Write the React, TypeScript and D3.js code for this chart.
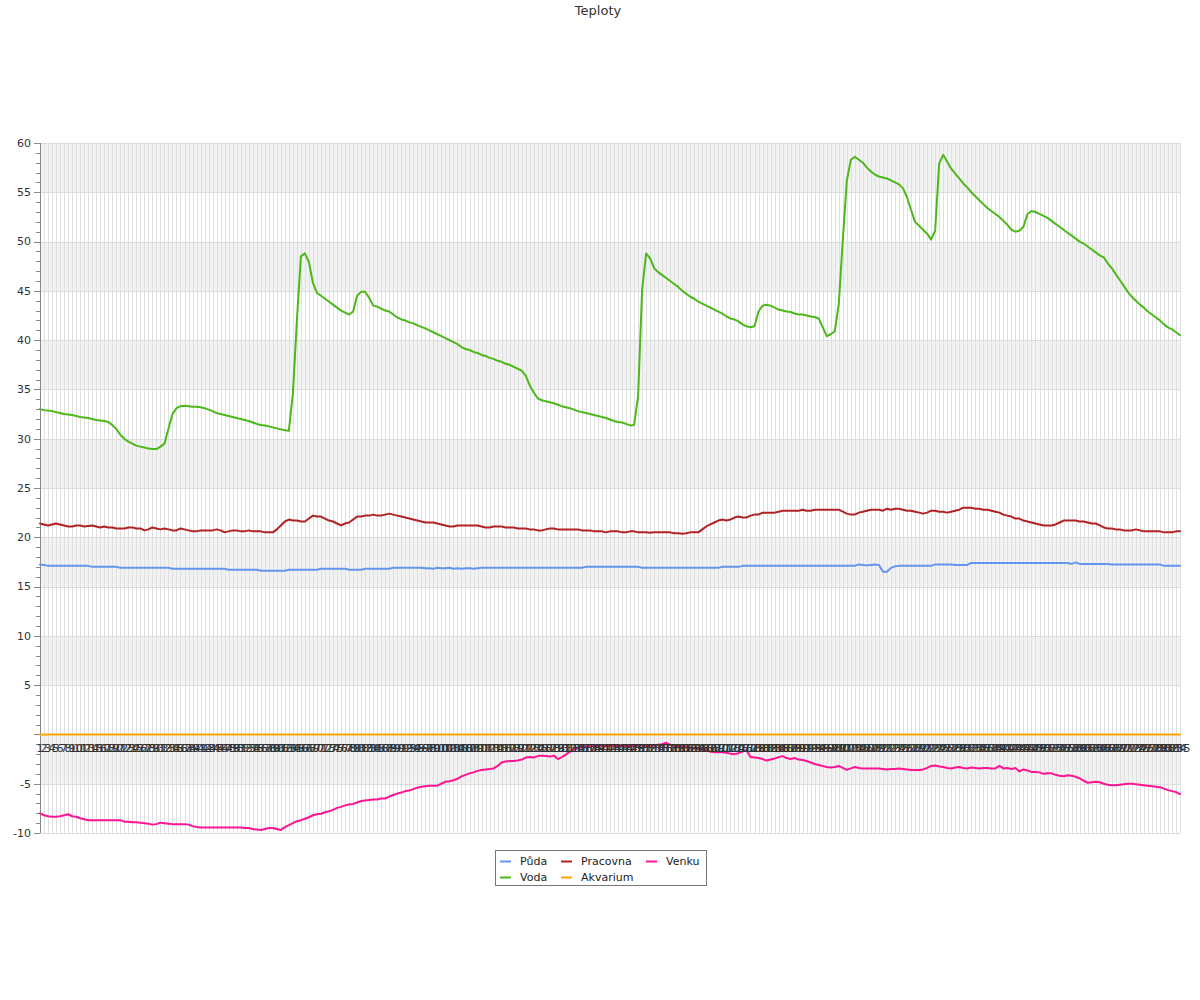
import React from 'react';
import * as d3 from 'd3';

const categories: string[] = d3.range(1, 286).map((d) => String(d));

const puda = [
  17.25, 17.2, 17.1, 17.1, 17.1, 17.1, 17.1, 17.1, 17.1, 17.1,
  17.1, 17.1, 17.1, 17.0, 17.0, 17.0, 17.0, 17.0, 17.0, 17.0,
  16.9, 16.9, 16.9, 16.9, 16.9, 16.9, 16.9, 16.9, 16.9, 16.9,
  16.9, 16.9, 16.9, 16.8, 16.8, 16.8, 16.8, 16.8, 16.8, 16.8,
  16.8, 16.8, 16.8, 16.8, 16.8, 16.8, 16.8, 16.7, 16.7, 16.7,
  16.7, 16.7, 16.7, 16.7, 16.7, 16.6, 16.6, 16.6, 16.6, 16.6,
  16.6, 16.6, 16.7, 16.7, 16.7, 16.7, 16.7, 16.7, 16.7, 16.7,
  16.8, 16.8, 16.8, 16.8, 16.8, 16.8, 16.8, 16.7, 16.7, 16.7,
  16.7, 16.8, 16.8, 16.8, 16.8, 16.8, 16.8, 16.8, 16.9, 16.9,
  16.9, 16.9, 16.9, 16.9, 16.9, 16.9, 16.85, 16.85, 16.8, 16.9,
  16.85, 16.85, 16.9, 16.8, 16.85, 16.8, 16.85, 16.85, 16.8, 16.85,
  16.9, 16.9, 16.9, 16.9, 16.9, 16.9, 16.9, 16.9, 16.9, 16.9,
  16.9, 16.9, 16.9, 16.9, 16.9, 16.9, 16.9, 16.9, 16.9, 16.9,
  16.9, 16.9, 16.9, 16.9, 16.9, 16.9, 17.0, 17.0, 17.0, 17.0,
  17.0, 17.0, 17.0, 17.0, 17.0, 17.0, 17.0, 17.0, 17.0, 17.0,
  16.9, 16.9, 16.9, 16.9, 16.9, 16.9, 16.9, 16.9, 16.9, 16.9,
  16.9, 16.9, 16.9, 16.9, 16.9, 16.9, 16.9, 16.9, 16.9, 16.9,
  17.0, 17.0, 17.0, 17.0, 17.0, 17.1, 17.1, 17.1, 17.1, 17.1,
  17.1, 17.1, 17.1, 17.1, 17.1, 17.1, 17.1, 17.1, 17.1, 17.1,
  17.1, 17.1, 17.1, 17.1, 17.1, 17.1, 17.1, 17.1, 17.1, 17.1,
  17.1, 17.1, 17.1, 17.1, 17.25, 17.2, 17.15, 17.2, 17.25, 17.2,
  16.5, 16.5, 16.9, 17.05, 17.1, 17.1, 17.1, 17.1, 17.1, 17.1,
  17.1, 17.1, 17.1, 17.25, 17.25, 17.25, 17.25, 17.25, 17.2, 17.2,
  17.2, 17.2, 17.4, 17.4, 17.4, 17.4, 17.4, 17.4, 17.4, 17.4,
  17.4, 17.4, 17.4, 17.4, 17.4, 17.4, 17.4, 17.4, 17.4, 17.4,
  17.4, 17.4, 17.4, 17.4, 17.4, 17.4, 17.4, 17.3, 17.45, 17.3,
  17.3, 17.3, 17.3, 17.3, 17.3, 17.3, 17.3, 17.25, 17.25, 17.25,
  17.25, 17.25, 17.25, 17.25, 17.25, 17.25, 17.25, 17.25, 17.25, 17.25,
  17.1, 17.1, 17.1, 17.1, 17.1,
];

const voda = [
  33.0, 32.9, 32.85, 32.8, 32.7, 32.6, 32.5, 32.45, 32.4, 32.3,
  32.2, 32.15, 32.1, 32.0, 31.9, 31.85, 31.8, 31.7, 31.4, 31.0,
  30.4, 30.0, 29.7, 29.5, 29.3, 29.2, 29.1, 29.0, 28.95, 28.95,
  29.2, 29.5, 31.0, 32.5, 33.1, 33.3, 33.35, 33.3, 33.25, 33.25,
  33.2, 33.1, 32.95, 32.8, 32.6, 32.5, 32.4, 32.3, 32.2, 32.1,
  32.0, 31.9, 31.8, 31.65, 31.5, 31.4, 31.35, 31.25, 31.15, 31.05,
  30.95, 30.85, 30.8, 34.6, 42.0, 48.5, 48.8, 47.9, 45.8, 44.8,
  44.5, 44.2, 43.9, 43.6, 43.3, 43.0, 42.8, 42.6, 42.9, 44.5,
  44.9, 44.9, 44.3, 43.5, 43.4, 43.2, 43.0, 42.9, 42.6, 42.3,
  42.1, 42.0, 41.8, 41.7, 41.5, 41.35, 41.2, 41.0, 40.8, 40.6,
  40.4, 40.2, 40.0, 39.8, 39.6, 39.3, 39.1, 39.0, 38.8, 38.7,
  38.5, 38.4, 38.2, 38.1, 37.9, 37.8, 37.6, 37.5, 37.3, 37.1,
  36.9, 36.4, 35.4, 34.7, 34.1, 33.9, 33.8, 33.7, 33.6, 33.45,
  33.3, 33.2, 33.1, 32.95, 32.8, 32.7, 32.6, 32.5, 32.4, 32.3,
  32.2, 32.1, 31.95, 31.8, 31.7, 31.65, 31.5, 31.35, 31.4, 34.3,
  45.1, 48.8, 48.3, 47.3, 46.9, 46.6, 46.3, 46.0, 45.7, 45.4,
  45.0, 44.7, 44.4, 44.2, 43.9, 43.7, 43.5, 43.3, 43.1, 42.9,
  42.7, 42.4, 42.2, 42.1, 41.9, 41.6, 41.4, 41.3, 41.4, 42.9,
  43.5, 43.6, 43.5, 43.3, 43.1, 43.0, 42.9, 42.85, 42.7, 42.6,
  42.6, 42.5, 42.4, 42.35, 42.2, 41.3, 40.4, 40.6, 40.9, 43.7,
  50.2, 56.2, 58.3, 58.6, 58.3, 58.0, 57.5, 57.1, 56.8, 56.6,
  56.5, 56.4, 56.2, 56.0, 55.8, 55.4, 54.5, 53.2, 52.0, 51.6,
  51.2, 50.8, 50.2, 51.1, 57.9, 58.8, 58.1, 57.4, 56.9, 56.4,
  55.9, 55.5, 55.0, 54.6, 54.2, 53.8, 53.4, 53.1, 52.8, 52.5,
  52.1, 51.7, 51.2, 51.0, 51.1, 51.5, 52.8, 53.1, 53.0, 52.8,
  52.6, 52.4, 52.1, 51.8, 51.5, 51.2, 50.9, 50.6, 50.3, 50.0,
  49.8, 49.5, 49.2, 48.9, 48.6, 48.4, 47.8, 47.3, 46.7, 46.1,
  45.5, 44.9, 44.4, 44.0, 43.6, 43.3, 42.9, 42.6, 42.3, 42.0,
  41.6, 41.3, 41.1, 40.8, 40.5,
];

const pracovna = [
  21.4, 21.3, 21.2, 21.3, 21.4, 21.3, 21.2, 21.1, 21.1, 21.2,
  21.2, 21.1, 21.15, 21.2, 21.1, 21.0, 21.1, 21.0, 21.0, 20.9,
  20.9, 20.9, 21.0, 21.0, 20.9, 20.9, 20.7, 20.8, 21.0, 20.9,
  20.8, 20.9, 20.8, 20.7, 20.7, 20.9, 20.8, 20.7, 20.6, 20.6,
  20.7, 20.7, 20.7, 20.7, 20.8, 20.7, 20.5, 20.6, 20.7, 20.7,
  20.6, 20.6, 20.7, 20.6, 20.6, 20.6, 20.5, 20.5, 20.5, 20.8,
  21.2, 21.6, 21.8, 21.7, 21.7, 21.6, 21.6, 21.9, 22.2, 22.1,
  22.1, 21.9, 21.7, 21.6, 21.4, 21.2, 21.4, 21.5, 21.8, 22.1,
  22.1, 22.2, 22.2, 22.3, 22.2, 22.2, 22.3, 22.4, 22.3, 22.2,
  22.1, 22.0, 21.9, 21.8, 21.7, 21.6, 21.5, 21.5, 21.5, 21.4,
  21.3, 21.2, 21.1, 21.1, 21.2, 21.2, 21.2, 21.2, 21.2, 21.2,
  21.1, 21.0, 21.0, 21.1, 21.1, 21.1, 21.0, 21.0, 21.0, 20.9,
  20.9, 20.9, 20.8, 20.8, 20.7, 20.7, 20.8, 20.9, 20.9, 20.8,
  20.8, 20.8, 20.8, 20.8, 20.8, 20.7, 20.7, 20.7, 20.6, 20.6,
  20.6, 20.5, 20.6, 20.6, 20.6, 20.5, 20.5, 20.6, 20.6, 20.5,
  20.5, 20.5, 20.45, 20.5, 20.5, 20.5, 20.5, 20.5, 20.4, 20.4,
  20.35, 20.4, 20.5, 20.5, 20.5, 20.8, 21.1, 21.3, 21.5, 21.7,
  21.8, 21.7, 21.8, 22.0, 22.1, 22.0, 22.0, 22.2, 22.3, 22.3,
  22.5, 22.5, 22.5, 22.5, 22.6, 22.7, 22.7, 22.7, 22.7, 22.7,
  22.8, 22.7, 22.7, 22.8, 22.8, 22.8, 22.8, 22.8, 22.8, 22.8,
  22.6, 22.4, 22.3, 22.3, 22.5, 22.6, 22.7, 22.8, 22.8, 22.8,
  22.7, 22.9, 22.8, 22.9, 22.9, 22.8, 22.7, 22.7, 22.6, 22.5,
  22.4, 22.5, 22.7, 22.7, 22.6, 22.6, 22.5, 22.6, 22.7, 22.8,
  23.0, 23.0, 23.0, 22.9, 22.9, 22.8, 22.8, 22.7, 22.6, 22.5,
  22.3, 22.2, 22.1, 21.9, 21.9, 21.7, 21.6, 21.5, 21.4, 21.3,
  21.2, 21.2, 21.2, 21.3, 21.5, 21.7, 21.7, 21.7, 21.7, 21.6,
  21.6, 21.5, 21.4, 21.4, 21.2, 21.0, 20.9, 20.9, 20.8, 20.8,
  20.7, 20.7, 20.7, 20.8, 20.7, 20.6, 20.6, 20.6, 20.6, 20.6,
  20.5, 20.5, 20.5, 20.6, 20.6,
];

const akvarium = [
  0, 0, 0, 0, 0, 0, 0, 0, 0, 0, 0, 0, 0, 0, 0, 0, 0, 0, 0, 0,
  0, 0, 0, 0, 0, 0, 0, 0, 0, 0, 0, 0, 0, 0, 0, 0, 0, 0, 0, 0,
  0, 0, 0, 0, 0, 0, 0, 0, 0, 0, 0, 0, 0, 0, 0, 0, 0, 0, 0, 0,
  0, 0, 0, 0, 0, 0, 0, 0, 0, 0, 0, 0, 0, 0, 0, 0, 0, 0, 0, 0,
  0, 0, 0, 0, 0, 0, 0, 0, 0, 0, 0, 0, 0, 0, 0, 0, 0, 0, 0, 0,
  0, 0, 0, 0, 0, 0, 0, 0, 0, 0, 0, 0, 0, 0, 0, 0, 0, 0, 0, 0,
  0, 0, 0, 0, 0, 0, 0, 0, 0, 0, 0, 0, 0, 0, 0, 0, 0, 0, 0, 0,
  0, 0, 0, 0, 0, 0, 0, 0, 0, 0, 0, 0, 0, 0, 0, 0, 0, 0, 0, 0,
  0, 0, 0, 0, 0, 0, 0, 0, 0, 0, 0, 0, 0, 0, 0, 0, 0, 0, 0, 0,
  0, 0, 0, 0, 0, 0, 0, 0, 0, 0, 0, 0, 0, 0, 0, 0, 0, 0, 0, 0,
  0, 0, 0, 0, 0, 0, 0, 0, 0, 0, 0, 0, 0, 0, 0, 0, 0, 0, 0, 0,
  0, 0, 0, 0, 0, 0, 0, 0, 0, 0, 0, 0, 0, 0, 0, 0, 0, 0, 0, 0,
  0, 0, 0, 0, 0, 0, 0, 0, 0, 0, 0, 0, 0, 0, 0, 0, 0, 0, 0, 0,
  0, 0, 0, 0, 0, 0, 0, 0, 0, 0, 0, 0, 0, 0, 0, 0, 0, 0, 0, 0,
  0, 0, 0, 0, 0,
];

const venku = [
  -8.0, -8.2, -8.3, -8.35, -8.35, -8.3, -8.2, -8.1, -8.3, -8.35,
  -8.5, -8.6, -8.7, -8.7, -8.7, -8.7, -8.7, -8.7, -8.7, -8.7,
  -8.7, -8.85, -8.85, -8.9, -8.9, -8.95, -9.0, -9.05, -9.15, -9.1,
  -8.95, -9.0, -9.05, -9.1, -9.1, -9.1, -9.1, -9.15, -9.3, -9.4,
  -9.45, -9.45, -9.45, -9.45, -9.45, -9.45, -9.45, -9.45, -9.45, -9.45,
  -9.45, -9.5, -9.5, -9.6, -9.65, -9.7, -9.6, -9.5, -9.5, -9.6,
  -9.7, -9.4, -9.2, -9.0, -8.8, -8.7, -8.55, -8.4, -8.2, -8.1,
  -8.05, -7.9, -7.8, -7.65, -7.45, -7.35, -7.2, -7.1, -7.05, -6.9,
  -6.75, -6.7, -6.65, -6.6, -6.6, -6.5, -6.5, -6.3, -6.15, -6.0,
  -5.9, -5.75, -5.7, -5.55, -5.4, -5.3, -5.25, -5.2, -5.2, -5.2,
  -5.0, -4.8, -4.75, -4.65, -4.5, -4.25, -4.1, -3.95, -3.85, -3.7,
  -3.6, -3.55, -3.5, -3.45, -3.2, -2.85, -2.75, -2.7, -2.7, -2.65,
  -2.55, -2.35, -2.3, -2.35, -2.2, -2.15, -2.2, -2.25, -2.15, -2.5,
  -2.3, -2.05, -1.75, -1.55, -1.35, -1.25, -1.2, -1.2, -1.15, -1.15,
  -1.1, -1.2, -1.1, -1.15, -1.2, -1.1, -1.15, -1.2, -1.1, -1.15,
  -1.1, -1.2, -1.15, -1.1, -1.05, -1.0, -0.85, -1.05, -1.15, -1.2,
  -1.25, -1.3, -1.35, -1.4, -1.45, -1.5, -1.6, -1.75, -1.8, -1.8,
  -1.8, -1.85, -1.95, -2.0, -1.9, -1.75, -1.6, -2.3, -2.35, -2.4,
  -2.5, -2.65, -2.55, -2.45, -2.3, -2.2, -2.4, -2.5, -2.4, -2.55,
  -2.6, -2.7, -2.85, -3.0, -3.1, -3.2, -3.3, -3.35, -3.3, -3.2,
  -3.4, -3.6, -3.45, -3.3, -3.4, -3.45, -3.45, -3.45, -3.45, -3.45,
  -3.5, -3.55, -3.5, -3.5, -3.45, -3.5, -3.55, -3.6, -3.6, -3.6,
  -3.55, -3.4, -3.2, -3.15, -3.25, -3.3, -3.4, -3.45, -3.35, -3.3,
  -3.4, -3.45, -3.35, -3.4, -3.45, -3.4, -3.4, -3.45, -3.45, -3.2,
  -3.45, -3.4, -3.5, -3.4, -3.75, -3.55, -3.65, -3.8, -3.8, -3.85,
  -4.0, -3.95, -3.95, -4.1, -4.2, -4.25, -4.15, -4.2, -4.3, -4.45,
  -4.7, -4.9, -4.85, -4.8, -4.85, -5.0, -5.1, -5.15, -5.15, -5.1,
  -5.05, -5.0, -5.0, -5.05, -5.1, -5.15, -5.2, -5.25, -5.3, -5.35,
  -5.5, -5.65, -5.75, -5.85, -6.05,
];

const seriesNames = ['Půda', 'Voda', 'Pracovna', 'Akvarium', 'Venku'];
const seriesColors = ['#6495ED', '#4CB81A', '#B22222', '#FFA500', '#FF1493'];
const seriesData = [puda, voda, pracovna, akvarium, venku];

const yMajorTicks = [60, 55, 50, 45, 40, 35, 30, 25, 20, 15, 10, 5, 0, -5, -10];
const yLabelTicks = [60, 55, 50, 45, 40, 35, 30, 25, 20, 15, 10, 5, -5, -10];
const title = 'Teploty';

const FONT = '"DejaVu Sans", Verdana, sans-serif';

export default function App() {
  const left = 40, right = 1180, top = 143, bottom = 833;
  const x = d3.scalePoint<string>().domain(categories).range([left, right]);
  const y = d3.scaleLinear().domain([-10, 60]).range([bottom, top]);
  const minorTicks = y.ticks(70).filter((t) => t % 5 !== 0);
  const bands = d3.range(-10, 60, 5);

  const line = d3
    .line<number>()
    .x((_, i) => x(categories[i]) as number)
    .y((d) => y(d));

  const legendCols = [500, 561, 646];
  const legendRows = [861.5, 877.5];

  return (
    <svg
      width={1200}
      height={1000}
      style={{ position: 'absolute', left: 0, top: 0, background: '#fff' }}
      fontFamily={FONT}
    >
      <rect x={0} y={0} width={1200} height={1000} fill="#fff" />
      <text x={598} y={15} textAnchor="middle" fontSize={13} fill="#333">
        {title}
      </text>

      {bands.map((b) => (
        <rect
          key={'band' + b}
          x={left}
          y={y(b + 5)}
          width={right - left}
          height={y(b) - y(b + 5)}
          fill={((b + 10) / 5) % 2 === 1 ? '#f2f2f2' : '#ffffff'}
        />
      ))}

      {categories.map((c) => (
        <line
          key={'vg' + c}
          x1={Math.round(x(c) as number) + 0.5}
          x2={Math.round(x(c) as number) + 0.5}
          y1={top}
          y2={bottom}
          stroke="#e0e0e0"
          strokeWidth={1}
        />
      ))}

      {yMajorTicks.map((t) => (
        <line
          key={'hg' + t}
          x1={left}
          x2={right}
          y1={Math.round(y(t)) + 0.5}
          y2={Math.round(y(t)) + 0.5}
          stroke="#dcdcdc"
          strokeWidth={1}
        />
      ))}

      <line x1={40.5} x2={40.5} y1={top} y2={bottom} stroke="#888" strokeWidth={1} />
      {yMajorTicks.map((t) => (
        <line
          key={'yt' + t}
          x1={34}
          x2={40}
          y1={Math.round(y(t)) + 0.5}
          y2={Math.round(y(t)) + 0.5}
          stroke="#888"
        />
      ))}
      {minorTicks.map((t) => (
        <line
          key={'ym' + t}
          x1={36}
          x2={40}
          y1={Math.round(y(t)) + 0.5}
          y2={Math.round(y(t)) + 0.5}
          stroke="#888"
        />
      ))}
      {yLabelTicks.map((t) => (
        <text
          key={'yl' + t}
          x={31}
          y={y(t)}
          dy="0.35em"
          textAnchor="end"
          fontSize={11}
          fill="#333"
        >
          {t}
        </text>
      ))}

      {seriesData.map((data, si) => (
        <path
          key={'s' + si}
          d={line(data) || ''}
          fill="none"
          stroke={seriesColors[si]}
          strokeWidth={2}
          strokeLinejoin="round"
          strokeLinecap="round"
        />
      ))}

      {categories.map((c) => (
        <text
          key={'xl' + c}
          x={x(c) as number}
          y={752}
          textAnchor="middle"
          fontSize={11}
          fill="#333"
        >
          {c}
        </text>
      ))}

      <rect x={495.5} y={850.5} width={211} height={35} fill="#fff" stroke="#777" strokeWidth={1} />
      {seriesNames.map((name, i) => {
        const col = Math.floor(i / 2);
        const row = i % 2;
        const lx = legendCols[col];
        const ly = legendRows[row];
        return (
          <g key={'lg' + name}>
            <line x1={lx} x2={lx + 11} y1={ly} y2={ly} stroke={seriesColors[i]} strokeWidth={2} />
            <text x={lx + 20} y={ly} dy="0.35em" fontSize={11} fill="#222">
              {name}
            </text>
          </g>
        );
      })}
    </svg>
  );
}
